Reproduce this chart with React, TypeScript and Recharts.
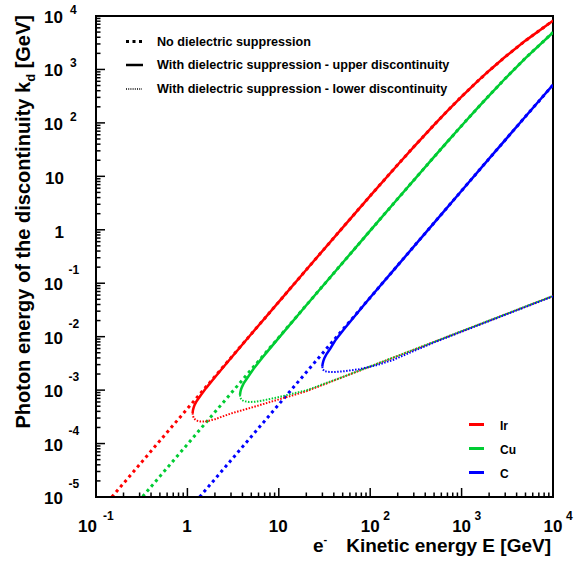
import { Line, LineChart, ReferenceArea, XAxis, YAxis } from 'recharts';

// Ir
const irNoDielE = [0.149, 0.3, 0.5, 1, 2, 5, 10, 20, 50, 100, 200, 300, 500, 700, 1000, 1500, 2000, 3000, 5000, 10000];
const irNoDielK = [1e-5, 4.05e-5, 1.13e-4, 4.5e-4, 1.8e-3, 0.01125, 0.0448, 0.179, 1.1, 4.31, 16.5, 35.7, 91.9, 168, 311, 605, 948, 1724, 3463, 8183];
const irUpperE = [1.14, 1.15, 1.17, 1.2, 1.26, 1.4, 1.6, 2, 3, 5, 10, 20, 50, 100, 200, 300, 500, 700, 1000, 1500, 2000, 3000, 5000, 10000];
const irUpperK = [3.7e-4, 4.2e-4, 4.7e-4, 5.3e-4, 6.2e-4, 8.0e-4, 1.09e-3, 1.74e-3, 3.99e-3, 0.0112, 0.0448, 0.179, 1.1, 4.31, 16.5, 35.7, 91.9, 168, 311, 605, 948, 1724, 3463, 8183];
const irLowerE = [1.14, 1.15, 1.18, 1.25, 1.4, 1.6, 2, 3, 5, 10, 20, 50, 100, 200, 500, 1000, 2000, 5000, 10000];
const irLowerK = [3.7e-4, 3.3e-4, 2.95e-4, 2.7e-4, 2.58e-4, 2.6e-4, 2.85e-4, 3.65e-4, 4.7e-4, 6.7e-4, 9.5e-4, 1.75e-3, 2.76e-3, 4.35e-3, 7.97e-3, 0.0126, 0.0199, 0.0365, 0.0576];

// Cu
const cuNoDielE = [0.324, 0.5, 1, 2, 3, 5, 10, 20, 50, 100, 200, 500, 700, 1000, 1500, 2000, 3000, 5000, 10000];
const cuNoDielK = [1.02e-5, 2.43e-5, 9.7e-5, 3.88e-4, 8.7e-4, 2.43e-3, 9.7e-3, 0.0388, 0.2415, 0.962, 3.81, 23.1, 44.5, 88.5, 191, 325, 677, 1634, 4926];
const cuUpperE = [3.76, 3.8, 3.86, 3.96, 4.15, 4.6, 5.3, 6.6, 10, 20, 50, 100, 200, 500, 700, 1000, 1500, 2000, 3000, 5000, 10000];
const cuUpperK = [8.1e-4, 9.2e-4, 1.03e-3, 1.15e-3, 1.36e-3, 1.76e-3, 2.5e-3, 4.05e-3, 9.5e-3, 0.0388, 0.2415, 0.962, 3.81, 23.1, 44.5, 88.5, 191, 325, 677, 1634, 4926];
const cuLowerE = [3.76, 3.8, 3.9, 4.15, 4.7, 5.5, 7, 10, 15, 20, 50, 100, 200, 500, 1000, 2000, 5000, 10000];
const cuLowerK = [8.1e-4, 7.2e-4, 6.6e-4, 6.2e-4, 6.0e-4, 6.05e-4, 6.5e-4, 7.4e-4, 8.8e-4, 9.9e-4, 1.76e-3, 2.78e-3, 4.38e-3, 8.0e-3, 0.0127, 0.02, 0.0367, 0.0579];

// C
const cNoDielE = [1.36, 3, 10, 30, 100, 200, 500, 1000, 2000, 5000, 10000];
const cNoDielK = [1e-5, 4.86e-5, 5.4e-4, 4.86e-3, 0.054, 0.216, 1.348, 5.38, 21.4, 131.6, 513];
const cUpperE = [29.9, 30.2, 30.7, 31.5, 33, 36.6, 42, 52.4, 79, 100, 200, 500, 1000, 2000, 5000, 10000];
const cUpperK = [2.75e-3, 3.12e-3, 3.49e-3, 3.94e-3, 4.61e-3, 6.0e-3, 8.8e-3, 0.0142, 0.0333, 0.054, 0.216, 1.348, 5.38, 21.4, 131.6, 513];
const cLowerE = [29.9, 30.3, 31.5, 34, 40, 50, 75, 120, 180, 300, 500, 1000, 2000, 5000, 10000];
const cLowerK = [2.75e-3, 2.45e-3, 2.27e-3, 2.2e-3, 2.18e-3, 2.24e-3, 2.45e-3, 2.95e-3, 3.7e-3, 5.4e-3, 7.8e-3, 0.0124, 0.0196, 0.036, 0.0568];

const materials = ['Ir', 'Cu', 'C'];
const colors = ['#ff0000', '#00cc33', '#0000ff'];

const pts = (E: number[], k: number[]) => E.map((e, i) => ({ E: e, k: k[i] }));

const series = [
	{ noDiel: pts(irNoDielE, irNoDielK), upper: pts(irUpperE, irUpperK), lower: pts(irLowerE, irLowerK) },
	{ noDiel: pts(cuNoDielE, cuNoDielK), upper: pts(cuUpperE, cuUpperK), lower: pts(cuLowerE, cuLowerK) },
	{ noDiel: pts(cNoDielE, cNoDielK), upper: pts(cUpperE, cUpperK), lower: pts(cLowerE, cLowerK) },
];

const logTicks = (from: number, to: number) => {
	const t: number[] = [];
	for (let e = from; e <= to; e++) {
		for (let m = 1; m <= 9; m++) {
			if (e === to && m > 1) break;
			t.push(Number((m * Math.pow(10, e)).toPrecision(3)));
		}
	}
	return t;
};
const xTicks = logTicks(-1, 4);
const yTicks = logTicks(-5, 4);

const font = '"Liberation Sans", Arial, sans-serif';

const decade = (v: number) => {
	const l = Math.log10(v);
	const e = Math.round(l);
	return { e, major: Math.abs(l - e) < 1e-6 };
};

const YTick = (props: any) => {
	const { x, y, payload } = props;
	const { e, major } = decade(payload.value);
	let label = null;
	if (major) {
		if (e === 0 || e === 1) {
			label = (
				<text x={64} y={y + 8} textAnchor='end' fontSize={17}>
					{e === 0 ? '1' : '10'}
				</text>
			);
		} else {
			label = (
				<g>
					<text x={63} y={y + 7} textAnchor='end' fontSize={17}>
						10
					</text>
					<text x={e < 0 ? 68.5 : 70} y={e < 0 ? y - 9 : y - 2} fontSize={12}>
						{e}
					</text>
				</g>
			);
		}
	}
	return (
		<g fontFamily={font} fontWeight='bold' fill='#000'>
			<line x1={x} x2={x + (major ? 9 : 4.5)} y1={y} y2={y} stroke='#000' strokeWidth={1.5} />
			{label}
		</g>
	);
};

const XTick = (props: any) => {
	const { x, y, payload } = props;
	const { e, major } = decade(payload.value);
	let label = null;
	if (major) {
		if (e === 0 || e === 1) {
			label = (
				<text x={x - 0.5} y={y + 35} textAnchor='middle' fontSize={17}>
					{e === 0 ? '1' : '10'}
				</text>
			);
		} else {
			const cx = e < 0 ? x - 8.5 : x;
			label = (
				<g>
					<text x={cx} y={y + 35} textAnchor='middle' fontSize={17}>
						10
					</text>
					<text x={e < 0 ? x + 7 : x + 13} y={y + 22.5} fontSize={12}>
						{e}
					</text>
				</g>
			);
		}
	}
	return (
		<g fontFamily={font} fontWeight='bold' fill='#000'>
			<line x1={x} x2={x} y1={y} y2={y - (major ? 9 : 4.5)} stroke='#000' strokeWidth={1.5} />
			{label}
		</g>
	);
};

export default function App() {
	return (
		<div style={{ position: 'absolute', left: 0, top: 0, width: 574, height: 563, background: '#fff' }}>
			<LineChart width={574} height={563} margin={{ top: 16, right: 21, left: 0, bottom: 0 }}>
				<XAxis
					dataKey='E'
					type='number'
					scale='log'
					domain={[0.1, 10000]}
					allowDataOverflow
					ticks={xTicks}
					interval={0}
					height={66}
					tickSize={0}
					tickMargin={0}
					tickLine={false}
					axisLine={{ stroke: '#000', strokeWidth: 2 }}
					tick={<XTick />}
				/>
				<YAxis
					type='number'
					scale='log'
					domain={[1e-5, 10000]}
					allowDataOverflow
					ticks={yTicks}
					interval={0}
					width={96}
					tickSize={0}
					tickMargin={0}
					tickLine={false}
					axisLine={{ stroke: '#000', strokeWidth: 2 }}
					tick={<YTick />}
				/>
				<ReferenceArea x1={0.1} x2={10000} y1={1e-5} y2={10000} fill='none' stroke='#000' strokeWidth={2} />
				{series.map((s, i) => (
					<Line
						key={'nd' + i}
						data={s.noDiel}
						dataKey='k'
						type='linear'
						stroke={colors[i]}
						strokeWidth={3}
						strokeDasharray='3 3.5'
						dot={false}
						activeDot={false}
						isAnimationActive={false}
					/>
				))}
				{series.map((s, i) => (
					<Line
						key={'lo' + i}
						data={s.lower}
						dataKey='k'
						type='linear'
						stroke={colors[i]}
						strokeWidth={2}
						strokeDasharray='1.5 1.5'
						dot={false}
						activeDot={false}
						isAnimationActive={false}
					/>
				))}
				{series.map((s, i) => (
					<Line
						key={'up' + i}
						data={s.upper}
						dataKey='k'
						type='linear'
						stroke={colors[i]}
						strokeWidth={2.5}
						dot={false}
						activeDot={false}
						isAnimationActive={false}
					/>
				))}
			</LineChart>
			<svg
				width={574}
				height={563}
				style={{ position: 'absolute', left: 0, top: 0, pointerEvents: 'none' }}
				fontFamily={font}
				fontWeight='bold'
			>
				<line x1={126} x2={142} y1={41.5} y2={41.5} stroke='#000' strokeWidth={3} strokeDasharray='3 3.5' />
				<text x={157} y={45.5} fontSize={12.6}>No dielectric suppression</text>
				<line x1={126} x2={143} y1={65} y2={65} stroke='#000' strokeWidth={2.5} />
				<text x={157} y={69} fontSize={12.6}>With dielectric suppression - upper discontinuity</text>
				<line x1={126} x2={142} y1={89} y2={89} stroke='#000' strokeWidth={1.5} strokeDasharray='1 1.2' />
				<text x={157} y={93} fontSize={12.6}>With dielectric suppression - lower discontinuity</text>

				{materials.map((m, i) => (
					<g key={m}>
						<line x1={469} x2={484} y1={424.5 + i * 24} y2={424.5 + i * 24} stroke={colors[i]} strokeWidth={3} />
						<text x={500} y={429.5 + i * 24} fontSize={12}>{m}</text>
					</g>
				))}

				<text x={313} y={552} fontSize={19}>
					e<tspan fontSize={11} dy={-9}>-</tspan>
				</text>
				<text x={551} y={552} textAnchor='end' fontSize={19}>
					Kinetic energy E [GeV]
				</text>
				<text transform='translate(30,15) rotate(-90)' textAnchor='end' fontSize={20}>
					Photon energy of the discontinuity k<tspan fontSize={13} dy={5}>d</tspan>
					<tspan dy={-5}>{'\u00a0'}[GeV]</tspan>
				</text>
			</svg>
		</div>
	);
}
